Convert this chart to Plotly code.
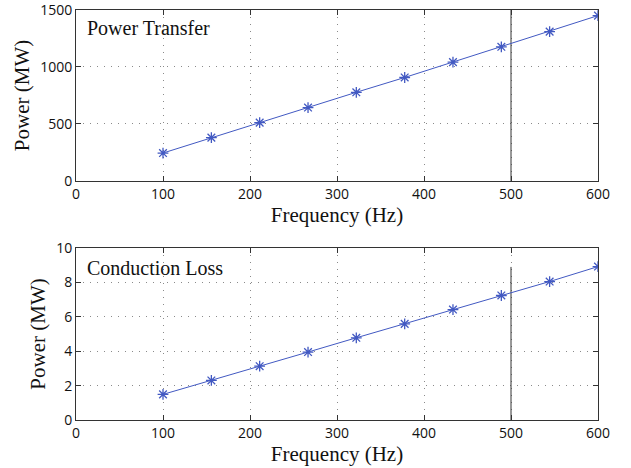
import plotly.graph_objects as go
from plotly.subplots import make_subplots

freq_hz = [100, 155.6, 211.1, 266.7, 322.2, 377.8, 433.3, 488.9, 544.4, 600]
power_transfer_mw = [245, 380, 512, 644, 778, 908, 1043, 1177, 1310, 1451]
conduction_loss_mw = [1.49, 2.30, 3.13, 3.95, 4.78, 5.59, 6.42, 7.24, 8.05, 8.92]
limit_freq = [500, 500]
limit_top = [0, 1500]
limit_bottom = [0, 8.9]

x_ticks = [0, 100, 200, 300, 400, 500, 600]
top_ticks = [0, 500, 1000, 1500]
bottom_ticks = [0, 2, 4, 6, 8, 10]

blue = "#4259c2"
serif = "Liberation Serif, Times New Roman, serif"
sans = "Open Sans, sans-serif"

fig = make_subplots(rows=2, cols=1)

fig.add_trace(go.Scatter(x=limit_freq, y=limit_top, mode="lines",
                         line=dict(color="#333333", width=1), showlegend=False,
                         hoverinfo="skip"), row=1, col=1)
fig.add_trace(go.Scatter(x=freq_hz, y=power_transfer_mw, mode="lines+markers",
                         line=dict(color=blue, width=1),
                         marker=dict(symbol="asterisk-open", size=9,
                                     line=dict(color=blue, width=1.3)),
                         showlegend=False), row=1, col=1)
fig.add_trace(go.Scatter(x=limit_freq, y=limit_bottom, mode="lines",
                         line=dict(color="#333333", width=1), showlegend=False,
                         hoverinfo="skip"), row=2, col=1)
fig.add_trace(go.Scatter(x=freq_hz, y=conduction_loss_mw, mode="lines+markers",
                         line=dict(color=blue, width=1),
                         marker=dict(symbol="asterisk-open", size=9,
                                     line=dict(color=blue, width=1.3)),
                         showlegend=False), row=2, col=1)

axis_common = dict(
    showline=True, linecolor="#333333", linewidth=1, mirror="ticks",
    ticks="inside", ticklen=5, tickcolor="#333333", automargin=False,
    ticklabeloverflow="allow",
    showgrid=True, gridcolor="#8a8a8a", griddash="1px,6px", gridwidth=1,
    zeroline=False, tickfont=dict(family=sans, size=14, color="#111111"),
)

fig.update_xaxes(**axis_common, range=[0, 600], tickvals=x_ticks,
                 title=dict(text="Frequency (Hz)", font=dict(family=serif, size=21, color="#111111"),
                            standoff=2))
fig.update_yaxes(**axis_common,
                 title=dict(text="Power (MW)", font=dict(family=serif, size=21, color="#111111"),
                            standoff=4))
fig.update_yaxes(range=[0, 1500], tickvals=top_ticks, row=1, col=1)
fig.update_yaxes(range=[0, 10], tickvals=bottom_ticks, row=2, col=1)

fig.update_layout(
    width=631, height=468,
    margin=dict(l=76, r=33, t=10, b=48, autoexpand=False),
    paper_bgcolor="white", plot_bgcolor="white",
    yaxis=dict(domain=[0.583, 1.0]),
    yaxis2=dict(domain=[0.0, 0.4195]),
    annotations=[
        dict(text="Power Transfer", xref="x domain", yref="y domain", x=0.017, y=0.895,
             xanchor="left", yanchor="middle", showarrow=False,
             font=dict(family=serif, size=20, color="#111111")),
        dict(text="Conduction Loss", xref="x2 domain", yref="y2 domain", x=0.017, y=0.886,
             xanchor="left", yanchor="middle", showarrow=False,
             font=dict(family=serif, size=20, color="#111111")),
    ],
)

fig.write_html("out.html", config={"displayModeBar": False},
               post_script="document.body.style.margin='0';")
